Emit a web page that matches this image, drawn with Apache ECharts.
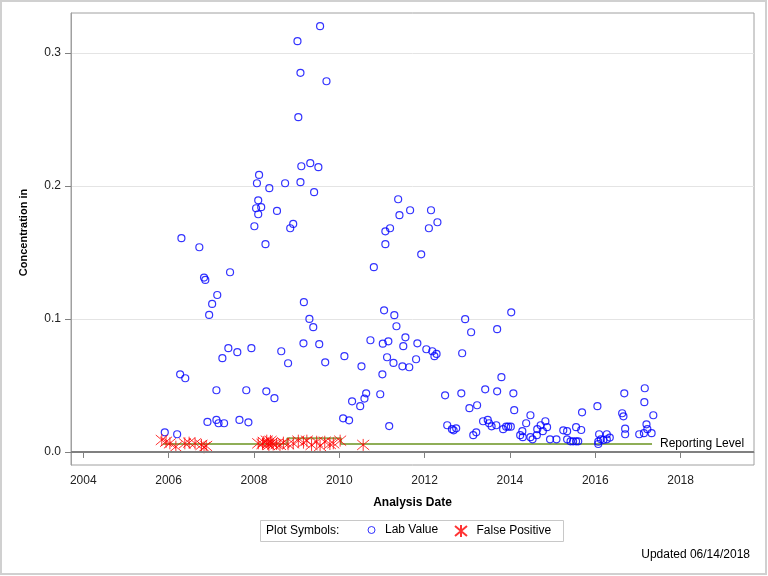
<!DOCTYPE html>
<html>
<head>
<meta charset="utf-8">
<script src="https://cdn.jsdelivr.net/npm/echarts@6/dist/echarts.min.js"></script>
<style>
html,body{margin:0;padding:0;background:#fff;}
#chart{width:768px;height:576px;}
</style>
</head>
<body>
<div id="chart"></div>
<script>
// Analysis dates (decimal years) and concentrations for lab values
const labDates = [
  2005.91,2006.20,2006.30,2006.27,2006.39,2006.72,2006.83,2006.86,2006.95,2007.02,
  2007.14,2006.91,2007.12,2007.12,2007.17,2007.30,2007.26,2007.40,2007.44,2007.61,
  2007.66,2007.82,2007.87,2007.94,2008.01,2008.05,2008.07,2008.10,2008.10,2008.12,
  2008.17,2008.27,2008.29,2008.36,2008.48,2008.54,2008.64,2008.73,2008.80,2008.85,
  2008.92,2009.02,2009.04,2009.09,2009.09,2009.11,2009.16,2009.17,2009.30,2009.32,
  2009.39,2009.41,2009.51,2009.53,2009.55,2009.67,2009.70,2010.09,2010.12,2010.23,
  2010.30,2010.49,2010.52,2010.59,2010.63,2010.73,2010.81,2010.96,2011.01,2011.02,
  2011.05,2011.08,2011.08,2011.12,2011.15,2011.17,2011.19,2011.27,2011.29,2011.34,
  2011.38,2011.41,2011.48,2011.50,2011.55,2011.64,2011.66,2011.80,2011.83,2011.92,
  2012.04,2012.10,2012.15,2012.18,2012.23,2012.28,2012.30,2012.48,2012.53,2012.64,
  2012.68,2012.74,2012.86,2012.88,2012.95,2013.05,2013.09,2013.14,2013.21,2013.23,
  2013.37,2013.42,2013.48,2013.51,2013.57,2013.68,2013.70,2013.70,2013.80,2013.84,
  2013.91,2013.96,2014.02,2014.03,2014.08,2014.10,2014.24,2014.29,2014.30,2014.38,
  2014.48,2014.48,2014.53,2014.63,2014.64,2014.72,2014.77,2014.83,2014.87,2014.94,
  2015.09,2015.25,2015.34,2015.34,2015.42,2015.48,2015.55,2015.60,2015.55,2015.67,
  2015.69,2016.05,2016.09,2016.07,2016.07,2016.13,2016.19,2016.27,2016.27,2016.34,
  2016.63,2016.66,2016.68,2016.70,2016.70,2017.03,2017.14,2017.16,2017.15,2017.20,
  2017.22,2017.32,2017.36
];
const labValues = [
  0.0148,0.0133,0.1607,0.0584,0.0554,0.1539,0.1311,0.1293,0.1030,0.1113,
  0.1180,0.0226,0.0464,0.0241,0.0216,0.0216,0.0705,0.0780,0.1351,0.0750,
  0.0241,0.0464,0.0223,0.0780,0.1697,0.1832,0.2020,0.1892,0.1787,0.2083,
  0.1840,0.1562,0.0456,0.1983,0.0404,0.1812,0.0757,0.2020,0.0667,0.1682,
  0.1714,0.3088,0.2517,0.2850,0.2028,0.2148,0.0817,0.1126,0.1000,0.2171,
  0.0938,0.1953,0.2141,0.0810,0.3201,0.0674,0.2787,0.0253,0.0720,0.0238,
  0.0381,0.0344,0.0644,0.0401,0.0441,0.0840,0.1389,0.0434,0.0584,0.0814,
  0.1065,0.1659,0.1562,0.0712,0.0832,0.0195,0.1682,0.0669,0.1028,0.0945,
  0.1900,0.1780,0.0644,0.0795,0.0862,0.0637,0.1817,0.0697,0.0817,0.1486,
  0.0772,0.1682,0.1817,0.0757,0.0720,0.0737,0.1727,0.0426,0.0201,0.0171,
  0.0163,0.0178,0.0441,0.0742,0.0998,0.0329,0.0900,0.0126,0.0148,0.0351,
  0.0231,0.0471,0.0241,0.0216,0.0193,0.0201,0.0923,0.0456,0.0562,0.0171,
  0.0190,0.0190,0.0190,0.1050,0.0441,0.0314,0.0126,0.0156,0.0111,0.0216,
  0.0276,0.0111,0.0095,0.0126,0.0171,0.0201,0.0156,0.0231,0.0186,0.0095,
  0.0095,0.0163,0.0156,0.0095,0.0080,0.0080,0.0080,0.0080,0.0186,0.0165,
  0.0298,0.0344,0.0133,0.0077,0.0060,0.0095,0.0090,0.0133,0.0095,0.0108,
  0.0291,0.0268,0.0441,0.0175,0.0133,0.0133,0.0141,0.0479,0.0374,0.0208,
  0.0171,0.0141,0.0276
];
// False positives
const fpDates = [
  2005.84,2005.94,2006.03,2006.17,2006.38,2006.48,2006.62,2006.77,2006.83,2006.88,
  2008.10,2008.20,2008.23,2008.30,2008.33,2008.35,2008.39,2008.42,2008.45,2008.53,
  2008.61,2008.69,2008.80,2008.92,2009.04,2009.16,2009.24,2009.35,2009.47,2009.55,
  2009.66,2009.78,2009.86,2010.02,2010.56
];
const fpValues = [
  0.0090,0.0077,0.0065,0.0040,0.0065,0.0070,0.0065,0.0053,0.0035,0.0045,
  0.0065,0.0060,0.0075,0.0085,0.0064,0.0053,0.0083,0.0070,0.0056,0.0060,
  0.0053,0.0070,0.0058,0.0065,0.0085,0.0070,0.0085,0.0053,0.0077,0.0045,
  0.0077,0.0060,0.0065,0.0085,0.0053
];
// Reporting level (stepped)
const rlDates  = [2005.87, 2008.78, 2008.78, 2010.04, 2010.04, 2017.33];
const rlValues = [0.006, 0.006, 0.0103, 0.0103, 0.006, 0.006];
const xTicks = [2004, 2006, 2008, 2010, 2012, 2014, 2016, 2018];
const yTicks = [0, 0.1, 0.2, 0.3];

const zip = (a, b) => a.map((v, i) => [v, b[i]]);
const FONT = '"Liberation Sans", Arial, sans-serif';
const STAR = 'path://M6,0L6,12M0,1L12,11M0,11L12,1';

const chart = echarts.init(document.getElementById('chart'), null, {renderer: 'canvas'});
chart.setOption({
  animation: false,
  backgroundColor: '#fff',
  textStyle: {fontFamily: FONT},
  title: {
    text: 'Updated 06/14/2018', right: 18, top: 549, padding: 0,
    textStyle: {fontSize: 12, fontWeight: 'normal', color: '#000', fontFamily: FONT}
  },
  grid: {left: 71, right: 14, top: 13, bottom: 111, show: true, borderColor: '#a0a0a0', borderWidth: 1},
  legend: [
    {data: ['Lab Value'], left: 367.5, top: 524, padding: 0, itemWidth: 17, itemHeight: 7,
     itemStyle: {borderWidth: 1},
     textStyle: {fontSize: 12, color: '#000', fontFamily: FONT}, selectedMode: false},
    {data: ['False Positive'], left: 454, top: 524, padding: 0, itemWidth: 21, itemHeight: 12,
     textStyle: {fontSize: 12, color: '#000', fontFamily: FONT}, selectedMode: false}
  ],
  graphic: [
    {type: 'rect', shape: {x: 1, y: 1, width: 765, height: 573}, style: {fill: 'none', stroke: '#d0d0d0', lineWidth: 2}, silent: true},
    {type: 'rect', shape: {x: 260.5, y: 520.5, width: 303, height: 21}, style: {fill: 'none', stroke: '#c8c8c8', lineWidth: 1}, silent: true},
    {type: 'text', x: 266, y: 531, style: {text: 'Plot Symbols:', font: '12px ' + FONT, fill: '#000', verticalAlign: 'middle'}, silent: true}
  ],
  xAxis: {
    type: 'value', min: 2003.712, max: 2019.72,
    name: 'Analysis Date', nameLocation: 'middle', nameGap: 32,
    nameTextStyle: {fontSize: 12, fontWeight: 'bold', color: '#000', fontFamily: FONT},
    axisLine: {show: true, lineStyle: {color: '#a0a0a0'}},
    axisTick: {show: true, length: 6, customValues: xTicks, lineStyle: {color: '#808080'}},
    axisLabel: {customValues: xTicks, margin: 10, fontSize: 12, color: '#222', formatter: v => String(Math.round(v))},
    splitLine: {show: false}
  },
  yAxis: {
    type: 'value', min: -0.0098, max: 0.33,
    name: 'Concentration in', nameLocation: 'middle', nameGap: 42,
    nameTextStyle: {fontSize: 11, fontWeight: 'bold', color: '#000', fontFamily: FONT, padding: [0, 0, 0, 13]},
    axisLine: {show: true, lineStyle: {color: '#a0a0a0'}},
    axisTick: {show: true, length: 6, customValues: yTicks, lineStyle: {color: '#808080'}},
    axisLabel: {customValues: yTicks, margin: 10, fontSize: 12, color: '#222', formatter: v => v.toFixed(1)},
    splitLine: {show: true, lineStyle: {color: '#e4e4e4', width: 1}}
  },
  series: [
    {
      name: 'Reporting Level', type: 'line', data: zip(rlDates, rlValues),
      symbol: 'none', z: 2, silent: true,
      lineStyle: {color: '#8fae57', width: 2},
      endLabel: {show: true, formatter: 'Reporting Level', distance: 8, fontSize: 12, color: '#000', fontFamily: FONT},
      markLine: {
        silent: true, symbol: 'none', label: {show: false},
        lineStyle: {color: '#808080', width: 2, type: 'solid'},
        data: [{yAxis: 0}]
      }
    },
    {
      name: 'Lab Value', type: 'scatter', data: zip(labDates, labValues),
      symbol: 'circle', symbolSize: 7, z: 3,
      itemStyle: {color: 'rgba(0,0,0,0)', borderColor: '#0000ff', borderWidth: 1.2}
    },
    {
      name: 'False Positive', type: 'scatter', data: zip(fpDates, fpValues),
      symbol: STAR, symbolSize: [12, 12], symbolKeepAspect: true, z: 4,
      itemStyle: {color: 'rgba(0,0,0,0)', borderColor: '#ff0000', borderWidth: 1}
    }
  ]
});
</script>
</body>
</html>
